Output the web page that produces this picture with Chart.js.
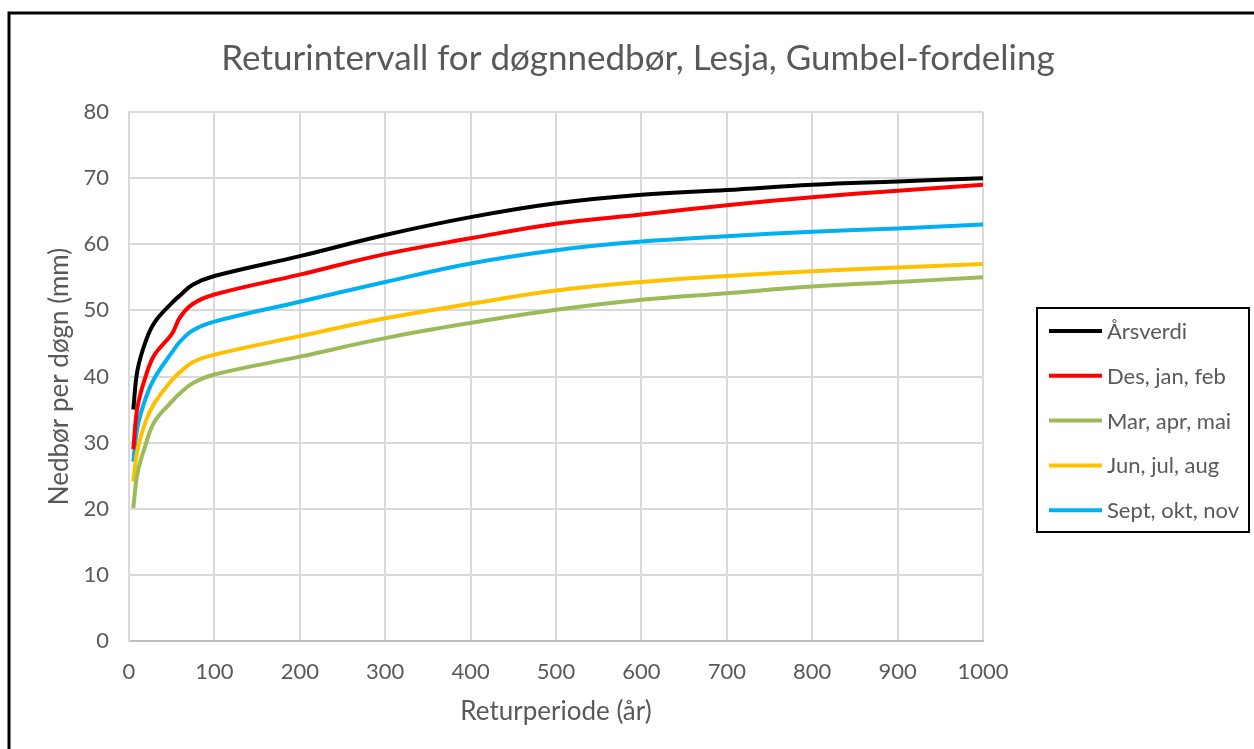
<!DOCTYPE html>
<html>
<head>
<meta charset="utf-8">
<script src="https://cdn.jsdelivr.net/npm/chart.js@4/dist/chart.umd.min.js"></script>
<style>
  html, body { margin: 0; padding: 0; background: #fff; }
  #wrap { position: relative; width: 1254px; height: 749px; }
</style>
</head>
<body>
<div id="wrap"><canvas id="chart" width="1254" height="749"></canvas></div>
<script>
// Returperiode (år) and døgnnedbør (mm)
const returnPeriods = [5, 10, 20, 30, 50, 60, 75, 100, 200, 300, 400, 500, 600, 700, 800, 900, 1000];
const arsverdi   = [35, 41, 45.5, 48.2, 51.1, 52.3, 53.9, 55.2, 58.2, 61.4, 64.1, 66.2, 67.5, 68.2, 69.0, 69.5, 70];
const desJanFeb  = [29, 35.4, 40.2, 43.3, 46.4, 49.0, 51.0, 52.4, 55.4, 58.5, 60.9, 63.1, 64.5, 65.9, 67.1, 68.1, 69];
const marAprMai  = [20.1, 25.4, 29.9, 33.2, 36.2, 37.5, 39.0, 40.3, 43.0, 45.8, 48.1, 50.1, 51.6, 52.6, 53.6, 54.3, 55];
const junJulAug  = [24.1, 28.9, 33.4, 36.0, 39.4, 40.7, 42.2, 43.3, 46.1, 48.8, 51.0, 53.0, 54.3, 55.2, 55.9, 56.5, 57];
const septOktNov = [27.1, 32.4, 36.9, 39.8, 43.6, 45.3, 47.0, 48.3, 51.3, 54.3, 57.1, 59.1, 60.4, 61.2, 61.9, 62.4, 63];

const seriesNames = ['Årsverdi', 'Des, jan, feb', 'Mar, apr, mai', 'Jun, jul, aug', 'Sept, okt, nov'];
const seriesValues = [arsverdi, desJanFeb, marAprMai, junJulAug, septOktNov];
const seriesColors = ['#000000', '#FF0000', '#9BBB59', '#FFC000', '#00B0F0'];

const chartTitle = 'Returintervall for døgnnedbør, Lesja, Gumbel-fordeling';
const xTitle = 'Returperiode (år)';
const yTitle = 'Nedbør per døgn (mm)';

const FONT = 'Lato, "Open Sans", sans-serif';
const TEXT_COLOR = '#595959';

// frame, title and legend box drawn like the Excel original
const excelDecor = {
  id: 'excelDecor',
  beforeDraw(chart) {
    const ctx = chart.ctx;
    ctx.save();
    ctx.fillStyle = '#fff';
    ctx.fillRect(0, 0, chart.width, chart.height);
    ctx.strokeStyle = '#000';
    ctx.lineWidth = 3;
    ctx.beginPath();
    ctx.moveTo(9, chart.height);
    ctx.lineTo(9, 13);
    ctx.lineTo(chart.width, 13);
    ctx.stroke();
    ctx.restore();
  },
  afterDraw(chart) {
    const ctx = chart.ctx;
    ctx.save();
    // title
    ctx.fillStyle = TEXT_COLOR;
    ctx.font = '35px ' + FONT;
    ctx.textAlign = 'center';
    ctx.textBaseline = 'middle';
    ctx.fillText(chartTitle, 638, 59);

    // legend
    const box = { x: 1037, y: 308, w: 212, h: 224 };
    ctx.strokeStyle = '#000';
    ctx.lineWidth = 2;
    ctx.strokeRect(box.x, box.y, box.w, box.h);
    ctx.font = '22px ' + FONT;
    ctx.textAlign = 'left';
    chart.data.datasets.forEach((ds, i) => {
      const y = 331 + i * 44.8;
      ctx.strokeStyle = ds.borderColor;
      ctx.lineWidth = 4;
      ctx.beginPath();
      ctx.moveTo(1049, y);
      ctx.lineTo(1102, y);
      ctx.stroke();
      ctx.fillStyle = TEXT_COLOR;
      ctx.fillText(ds.label, 1107, y + 1);
    });
    ctx.restore();
  }
};

const datasets = seriesNames.map((name, i) => ({
  label: name,
  data: returnPeriods.map((x, j) => ({ x: x, y: seriesValues[i][j] })),
  borderColor: seriesColors[i],
  backgroundColor: seriesColors[i],
  borderWidth: 4,
  pointRadius: 0,
  fill: false,
  tension: 0.4
}));

new Chart(document.getElementById('chart').getContext('2d'), {
  type: 'line',
  data: { datasets: datasets },
  plugins: [excelDecor],
  options: {
    responsive: false,
    animation: false,
    layout: { padding: { left: 20, right: 271, top: 112, bottom: 8 } },
    plugins: {
      legend: { display: false },
      title: { display: false },
      tooltip: { enabled: false }
    },
    scales: {
      x: {
        type: 'linear',
        min: 0,
        max: 1000,
        ticks: {
          stepSize: 100, padding: 18, color: TEXT_COLOR,
          font: { family: FONT, size: 22 },
          callback: (v) => String(v)
        },
        grid: { color: '#d9d9d9', lineWidth: 2, drawTicks: false },
        border: { color: '#bfbfbf', width: 2 },
        title: { display: true, text: xTitle, color: TEXT_COLOR, font: { family: FONT, size: 26 }, padding: { bottom: 14 } },
        afterFit(scale) { scale.height = 749 - 641 - 8; }
      },
      y: {
        min: 0,
        max: 80,
        ticks: { stepSize: 10, padding: 20, color: TEXT_COLOR, font: { family: FONT, size: 22 } },
        grid: { color: '#d9d9d9', lineWidth: 2, drawTicks: false },
        border: { color: '#d9d9d9', width: 2 },
        title: { display: true, text: yTitle, color: TEXT_COLOR, font: { family: FONT, size: 26 }, padding: { top: 24 } },
        afterFit(scale) { scale.width = 129 - 20; }
      }
    }
  }
});
</script>
</body>
</html>
